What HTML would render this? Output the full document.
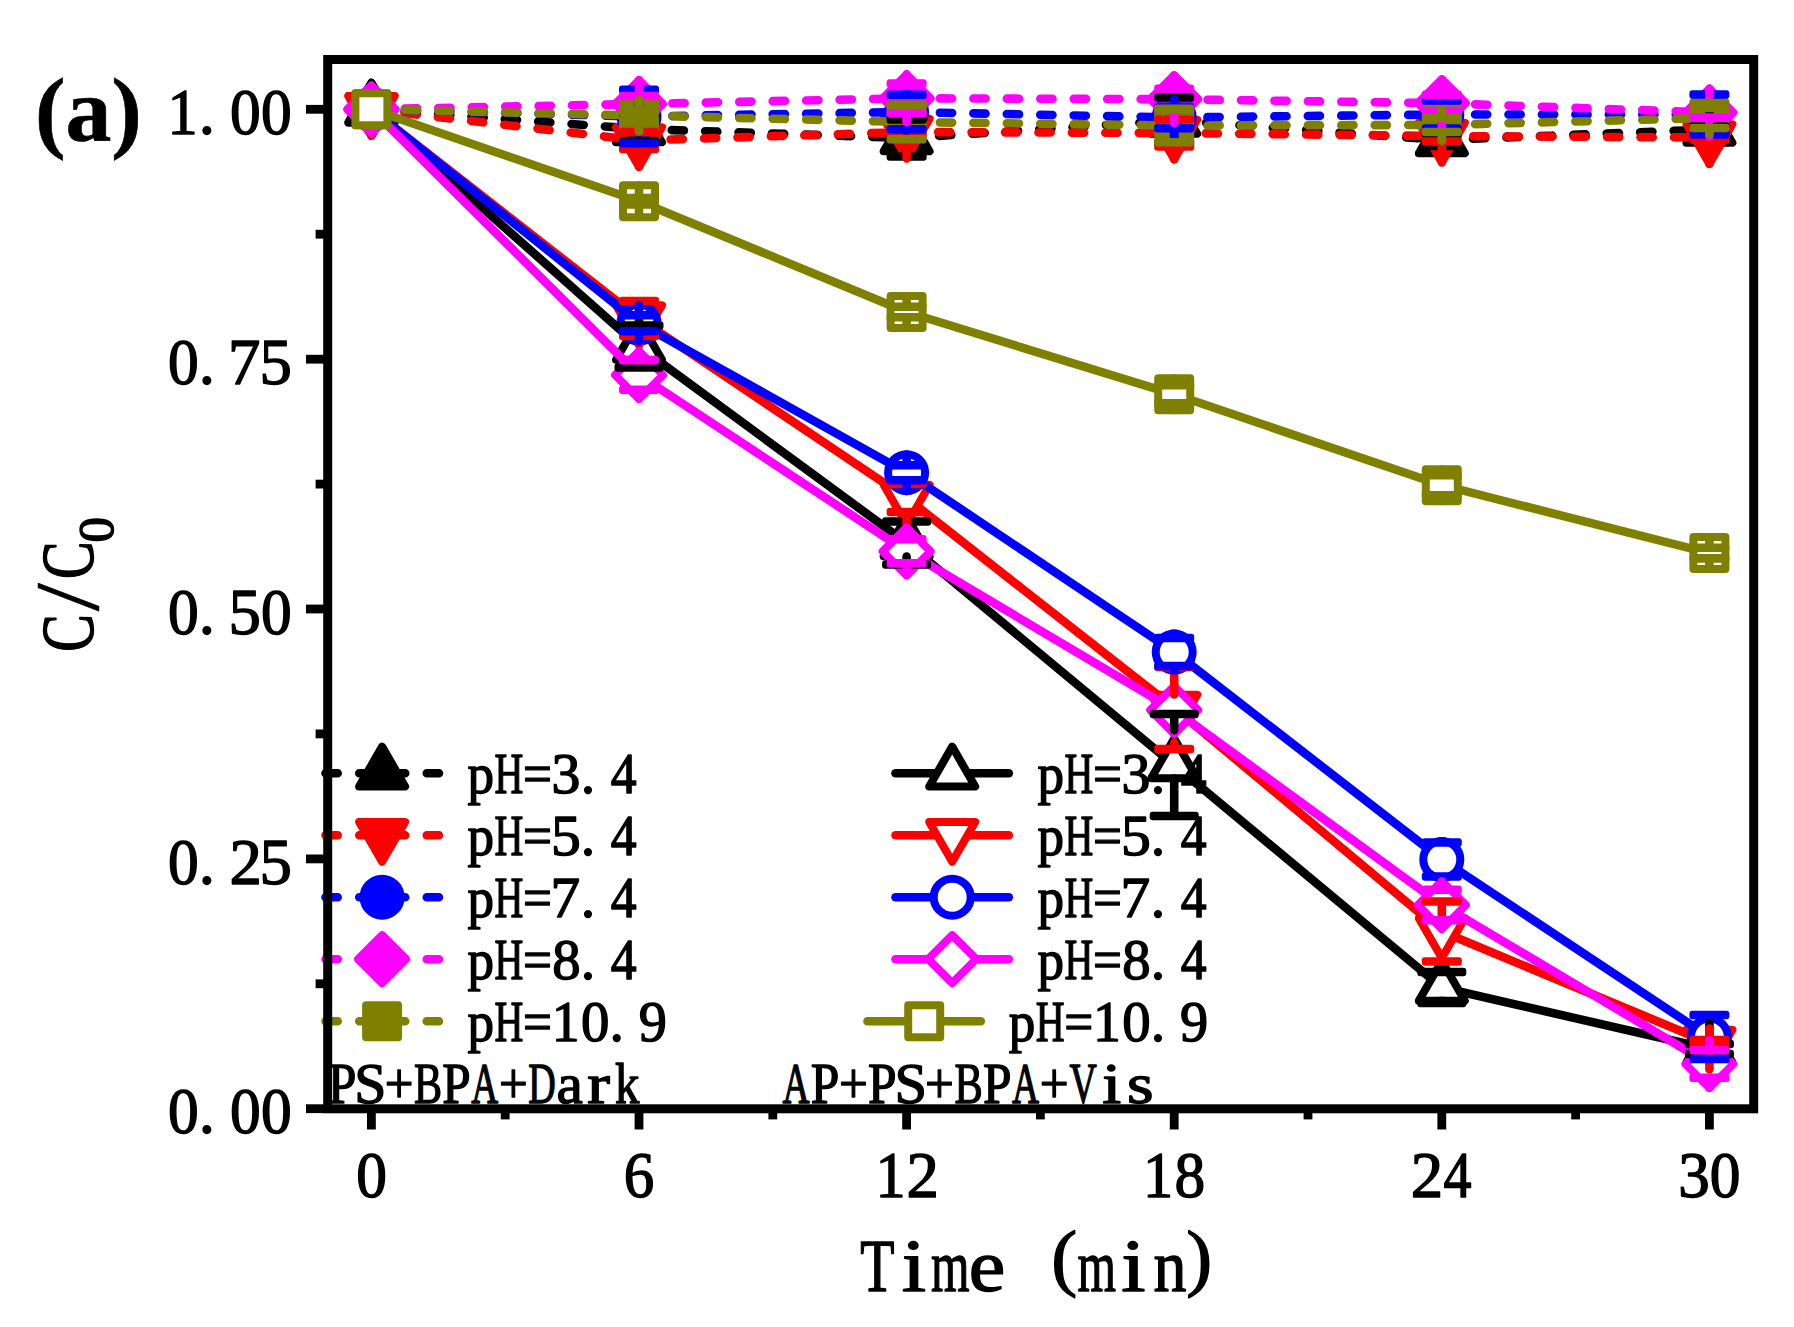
<!DOCTYPE html>
<html lang="en"><head><meta charset="utf-8"><title>C/C0 vs Time</title>
<style>html,body{margin:0;padding:0;background:#fff}svg{display:block}text{font-family:"Liberation Serif",serif;fill:#000;white-space:pre;stroke:#000;stroke-width:1.4px;stroke-linejoin:round}</style></head><body>
<svg width="1794" height="1327" viewBox="0 0 1794 1327">
<title>(a) C/C0 versus Time (min)</title>
<desc>Line chart. Y axis C/C0 from 0.00 to 1.00 (0.00, 0.25, 0.50, 0.75, 1.00). X axis Time (min): 0, 6, 12, 18, 24, 30. Legend PS+BPA+Dark: pH=3.4, pH=5.4, pH=7.4, pH=8.4, pH=10.9. Legend AP+PS+BPA+Vis: pH=3.4, pH=5.4, pH=7.4, pH=8.4, pH=10.9.</desc>
<rect width="1794" height="1327" fill="#fff"/>
<g id="dark">
<polyline points="371.4,109.3 639.0,129.0 906.6,138.0 1174.2,120.5 1441.8,140.0 1709.4,129.5" fill="none" stroke="#000000" stroke-width="8.6" stroke-linecap="round" stroke-linejoin="round" stroke-dasharray="12.2 21.25"/>
<path d="M371.4 82.7L394.4 122.6L348.4 122.6Z" fill="#000000" stroke="#000000" stroke-width="8.0" stroke-linejoin="round"/>
<path d="M639.0 102.4L662.0 142.3L616.0 142.3Z" fill="#000000" stroke="#000000" stroke-width="8.0" stroke-linejoin="round"/>
<path d="M906.6 111.4L929.6 151.3L883.6 151.3Z" fill="#000000" stroke="#000000" stroke-width="8.0" stroke-linejoin="round"/>
<path d="M1174.2 93.9L1197.2 133.8L1151.2 133.8Z" fill="#000000" stroke="#000000" stroke-width="8.0" stroke-linejoin="round"/>
<path d="M1441.8 113.4L1464.8 153.3L1418.8 153.3Z" fill="#000000" stroke="#000000" stroke-width="8.0" stroke-linejoin="round"/>
<path d="M1709.4 102.9L1732.4 142.8L1686.4 142.8Z" fill="#000000" stroke="#000000" stroke-width="8.0" stroke-linejoin="round"/>
<polyline points="371.4,109.3 639.0,140.5 906.6,132.0 1174.2,133.0 1441.8,136.0 1709.4,137.5" fill="none" stroke="#ff0000" stroke-width="8.6" stroke-linecap="round" stroke-linejoin="round" stroke-dasharray="12.2 21.25"/>
<path d="M371.4 135.9L394.4 96.0L348.4 96.0Z" fill="#ff0000" stroke="#ff0000" stroke-width="8.0" stroke-linejoin="round"/>
<path d="M639.0 167.1L662.0 127.2L616.0 127.2Z" fill="#ff0000" stroke="#ff0000" stroke-width="8.0" stroke-linejoin="round"/>
<path d="M906.6 158.6L929.6 118.7L883.6 118.7Z" fill="#ff0000" stroke="#ff0000" stroke-width="8.0" stroke-linejoin="round"/>
<path d="M1174.2 159.6L1197.2 119.7L1151.2 119.7Z" fill="#ff0000" stroke="#ff0000" stroke-width="8.0" stroke-linejoin="round"/>
<path d="M1441.8 162.6L1464.8 122.7L1418.8 122.7Z" fill="#ff0000" stroke="#ff0000" stroke-width="8.0" stroke-linejoin="round"/>
<path d="M1709.4 164.1L1732.4 124.2L1686.4 124.2Z" fill="#ff0000" stroke="#ff0000" stroke-width="8.0" stroke-linejoin="round"/>
<polyline points="371.4,109.3 639.0,116.5 906.6,112.0 1174.2,117.5 1441.8,114.5 1709.4,114.5" fill="none" stroke="#0000ff" stroke-width="8.6" stroke-linecap="round" stroke-linejoin="round" stroke-dasharray="12.2 21.25"/>
<circle cx="371.4" cy="109.3" r="18.5" fill="#0000ff" stroke="#0000ff" stroke-width="8.0" stroke-linejoin="round"/>
<circle cx="639.0" cy="116.5" r="18.5" fill="#0000ff" stroke="#0000ff" stroke-width="8.0" stroke-linejoin="round"/>
<circle cx="906.6" cy="112.0" r="18.5" fill="#0000ff" stroke="#0000ff" stroke-width="8.0" stroke-linejoin="round"/>
<circle cx="1174.2" cy="117.5" r="18.5" fill="#0000ff" stroke="#0000ff" stroke-width="8.0" stroke-linejoin="round"/>
<circle cx="1441.8" cy="114.5" r="18.5" fill="#0000ff" stroke="#0000ff" stroke-width="8.0" stroke-linejoin="round"/>
<circle cx="1709.4" cy="114.5" r="18.5" fill="#0000ff" stroke="#0000ff" stroke-width="8.0" stroke-linejoin="round"/>
<polyline points="371.4,109.3 639.0,104.0 906.6,98.3 1174.2,99.2 1441.8,103.2 1709.4,112.5" fill="none" stroke="#ff00ff" stroke-width="8.6" stroke-linecap="round" stroke-linejoin="round" stroke-dasharray="12.2 21.25"/>
<path d="M371.4 85.3L395.4 109.3L371.4 133.3L347.4 109.3Z" fill="#ff00ff" stroke="#ff00ff" stroke-width="8.0" stroke-linejoin="round"/>
<path d="M639.0 80.0L663.0 104.0L639.0 128.0L615.0 104.0Z" fill="#ff00ff" stroke="#ff00ff" stroke-width="8.0" stroke-linejoin="round"/>
<path d="M906.6 74.3L930.6 98.3L906.6 122.3L882.6 98.3Z" fill="#ff00ff" stroke="#ff00ff" stroke-width="8.0" stroke-linejoin="round"/>
<path d="M1174.2 75.2L1198.2 99.2L1174.2 123.2L1150.2 99.2Z" fill="#ff00ff" stroke="#ff00ff" stroke-width="8.0" stroke-linejoin="round"/>
<path d="M1441.8 79.2L1465.8 103.2L1441.8 127.2L1417.8 103.2Z" fill="#ff00ff" stroke="#ff00ff" stroke-width="8.0" stroke-linejoin="round"/>
<path d="M1709.4 88.5L1733.4 112.5L1709.4 136.5L1685.4 112.5Z" fill="#ff00ff" stroke="#ff00ff" stroke-width="8.0" stroke-linejoin="round"/>
<polyline points="371.4,109.3 639.0,115.5 906.6,122.0 1174.2,125.5 1441.8,125.0 1709.4,118.0" fill="none" stroke="#808000" stroke-width="8.6" stroke-linecap="round" stroke-linejoin="round" stroke-dasharray="12.2 21.25"/>
<rect x="355.4" y="93.3" width="32" height="32" fill="#808000" stroke="#808000" stroke-width="8.0" stroke-linejoin="round"/>
<rect x="623.0" y="99.5" width="32" height="32" fill="#808000" stroke="#808000" stroke-width="8.0" stroke-linejoin="round"/>
<rect x="890.6" y="106.0" width="32" height="32" fill="#808000" stroke="#808000" stroke-width="8.0" stroke-linejoin="round"/>
<rect x="1158.2" y="109.5" width="32" height="32" fill="#808000" stroke="#808000" stroke-width="8.0" stroke-linejoin="round"/>
<rect x="1425.8" y="109.0" width="32" height="32" fill="#808000" stroke="#808000" stroke-width="8.0" stroke-linejoin="round"/>
<rect x="1693.4" y="102.0" width="32" height="32" fill="#808000" stroke="#808000" stroke-width="8.0" stroke-linejoin="round"/>
</g>
<g id="dark-err">
<line x1="639.0" y1="102.7" x2="639.0" y2="112.7" stroke="#000000" stroke-width="8.6" stroke-linecap="round"/>
<rect x="634.7" y="138.3" width="8.6" height="2.7" rx="2" fill="#000000"/>
<rect x="619.0" y="112.7" width="40.0" height="8.6" rx="3" fill="#000000"/>
<rect x="619.0" y="136.7" width="40.0" height="8.6" rx="3" fill="#000000"/>
<line x1="906.6" y1="111.7" x2="906.6" y2="115.2" stroke="#000000" stroke-width="8.6" stroke-linecap="round"/>
<line x1="906.6" y1="151.6" x2="906.6" y2="152.2" stroke="#000000" stroke-width="8.6" stroke-linecap="round"/>
<rect x="886.6" y="115.2" width="40.0" height="8.6" rx="3" fill="#000000"/>
<rect x="886.6" y="152.2" width="40.0" height="8.6" rx="3" fill="#000000"/>
<rect x="1169.9" y="89.9" width="8.6" height="7.6" rx="2" fill="#000000"/>
<line x1="1174.2" y1="134.1" x2="1174.2" y2="139.2" stroke="#000000" stroke-width="8.6" stroke-linecap="round"/>
<rect x="1154.2" y="93.2" width="40.0" height="8.6" rx="3" fill="#000000"/>
<rect x="1154.2" y="139.2" width="40.0" height="8.6" rx="3" fill="#000000"/>
<line x1="1441.8" y1="113.7" x2="1441.8" y2="129.7" stroke="#000000" stroke-width="8.6" stroke-linecap="round"/>
<rect x="1437.5" y="146.0" width="8.6" height="3.3" rx="2" fill="#000000"/>
<rect x="1421.8" y="129.7" width="40.0" height="8.6" rx="3" fill="#000000"/>
<rect x="1421.8" y="141.7" width="40.0" height="8.6" rx="3" fill="#000000"/>
<line x1="1709.4" y1="103.2" x2="1709.4" y2="122.2" stroke="#000000" stroke-width="8.6" stroke-linecap="round"/>
<rect x="1705.1" y="132.5" width="8.6" height="6.3" rx="2" fill="#000000"/>
<rect x="1689.4" y="122.2" width="40.0" height="8.6" rx="3" fill="#000000"/>
<rect x="1689.4" y="128.2" width="40.0" height="8.6" rx="3" fill="#000000"/>
<rect x="634.7" y="131.2" width="8.6" height="0.8" rx="2" fill="#ff0000"/>
<line x1="639.0" y1="153.3" x2="639.0" y2="166.8" stroke="#ff0000" stroke-width="8.6" stroke-linecap="round"/>
<rect x="619.0" y="127.7" width="40.0" height="8.6" rx="3" fill="#ff0000"/>
<rect x="619.0" y="144.7" width="40.0" height="8.6" rx="3" fill="#ff0000"/>
<rect x="902.3" y="122.7" width="8.6" height="7.3" rx="2" fill="#ff0000"/>
<line x1="906.6" y1="138.3" x2="906.6" y2="158.3" stroke="#ff0000" stroke-width="8.6" stroke-linecap="round"/>
<rect x="886.6" y="125.7" width="40.0" height="8.6" rx="3" fill="#ff0000"/>
<rect x="886.6" y="129.7" width="40.0" height="8.6" rx="3" fill="#ff0000"/>
<rect x="1169.9" y="119.5" width="8.6" height="4.2" rx="2" fill="#ff0000"/>
<line x1="1174.2" y1="150.8" x2="1174.2" y2="159.3" stroke="#ff0000" stroke-width="8.6" stroke-linecap="round"/>
<rect x="1154.2" y="115.2" width="40.0" height="8.6" rx="3" fill="#ff0000"/>
<rect x="1154.2" y="142.2" width="40.0" height="8.6" rx="3" fill="#ff0000"/>
<rect x="1437.5" y="126.7" width="8.6" height="3.8" rx="2" fill="#ff0000"/>
<line x1="1441.8" y1="145.8" x2="1441.8" y2="162.3" stroke="#ff0000" stroke-width="8.6" stroke-linecap="round"/>
<rect x="1421.8" y="126.2" width="40.0" height="8.6" rx="3" fill="#ff0000"/>
<rect x="1421.8" y="137.2" width="40.0" height="8.6" rx="3" fill="#ff0000"/>
<rect x="1705.1" y="128.2" width="8.6" height="7.3" rx="2" fill="#ff0000"/>
<line x1="1709.4" y1="143.8" x2="1709.4" y2="163.8" stroke="#ff0000" stroke-width="8.6" stroke-linecap="round"/>
<rect x="1689.4" y="131.2" width="40.0" height="8.6" rx="3" fill="#ff0000"/>
<rect x="1689.4" y="135.2" width="40.0" height="8.6" rx="3" fill="#ff0000"/>
<rect x="634.7" y="89.7" width="8.6" height="4.3" rx="2" fill="#0000ff"/>
<rect x="634.7" y="139.0" width="8.6" height="4.3" rx="2" fill="#0000ff"/>
<rect x="619.0" y="85.4" width="40.0" height="8.6" rx="3" fill="#0000ff"/>
<rect x="619.0" y="139.0" width="40.0" height="8.6" rx="3" fill="#0000ff"/>
<rect x="902.3" y="89.5" width="8.6" height="5.3" rx="2" fill="#0000ff"/>
<rect x="902.3" y="129.2" width="8.6" height="5.3" rx="2" fill="#0000ff"/>
<rect x="886.6" y="90.5" width="40.0" height="8.6" rx="3" fill="#0000ff"/>
<rect x="886.6" y="124.9" width="40.0" height="8.6" rx="3" fill="#0000ff"/>
<line x1="1174.2" y1="99.3" x2="1174.2" y2="102.5" stroke="#0000ff" stroke-width="8.6" stroke-linecap="round"/>
<line x1="1174.2" y1="132.5" x2="1174.2" y2="135.7" stroke="#0000ff" stroke-width="8.6" stroke-linecap="round"/>
<rect x="1154.2" y="102.5" width="40.0" height="8.6" rx="3" fill="#0000ff"/>
<rect x="1154.2" y="123.9" width="40.0" height="8.6" rx="3" fill="#0000ff"/>
<rect x="1437.5" y="92.0" width="8.6" height="8.5" rx="2" fill="#0000ff"/>
<rect x="1437.5" y="128.5" width="8.6" height="8.5" rx="2" fill="#0000ff"/>
<rect x="1421.8" y="96.2" width="40.0" height="8.6" rx="3" fill="#0000ff"/>
<rect x="1421.8" y="124.2" width="40.0" height="8.6" rx="3" fill="#0000ff"/>
<rect x="1705.1" y="92.0" width="8.6" height="2.5" rx="2" fill="#0000ff"/>
<rect x="1705.1" y="134.5" width="8.6" height="2.5" rx="2" fill="#0000ff"/>
<rect x="1689.4" y="90.2" width="40.0" height="8.6" rx="3" fill="#0000ff"/>
<rect x="1689.4" y="130.2" width="40.0" height="8.6" rx="3" fill="#0000ff"/>
<line x1="639.0" y1="80.3" x2="639.0" y2="91.7" stroke="#ff00ff" stroke-width="8.6" stroke-linecap="round"/>
<line x1="639.0" y1="116.3" x2="639.0" y2="127.7" stroke="#ff00ff" stroke-width="8.6" stroke-linecap="round"/>
<rect x="619.0" y="91.7" width="40.0" height="8.6" rx="3" fill="#ff00ff"/>
<rect x="619.0" y="107.7" width="40.0" height="8.6" rx="3" fill="#ff00ff"/>
<line x1="906.6" y1="74.6" x2="906.6" y2="79.2" stroke="#ff00ff" stroke-width="8.6" stroke-linecap="round"/>
<line x1="906.6" y1="117.4" x2="906.6" y2="122.0" stroke="#ff00ff" stroke-width="8.6" stroke-linecap="round"/>
<rect x="886.6" y="79.2" width="40.0" height="8.6" rx="3" fill="#ff00ff"/>
<rect x="886.6" y="108.8" width="40.0" height="8.6" rx="3" fill="#ff00ff"/>
<line x1="1174.2" y1="75.5" x2="1174.2" y2="84.4" stroke="#ff00ff" stroke-width="8.6" stroke-linecap="round"/>
<line x1="1174.2" y1="114.0" x2="1174.2" y2="122.9" stroke="#ff00ff" stroke-width="8.6" stroke-linecap="round"/>
<rect x="1154.2" y="84.4" width="40.0" height="8.6" rx="3" fill="#ff00ff"/>
<rect x="1154.2" y="105.4" width="40.0" height="8.6" rx="3" fill="#ff00ff"/>
<line x1="1441.8" y1="79.5" x2="1441.8" y2="90.6" stroke="#ff00ff" stroke-width="8.6" stroke-linecap="round"/>
<line x1="1441.8" y1="115.8" x2="1441.8" y2="126.9" stroke="#ff00ff" stroke-width="8.6" stroke-linecap="round"/>
<rect x="1421.8" y="90.6" width="40.0" height="8.6" rx="3" fill="#ff00ff"/>
<rect x="1421.8" y="107.2" width="40.0" height="8.6" rx="3" fill="#ff00ff"/>
<line x1="1709.4" y1="88.8" x2="1709.4" y2="103.2" stroke="#ff00ff" stroke-width="8.6" stroke-linecap="round"/>
<line x1="1709.4" y1="121.8" x2="1709.4" y2="136.2" stroke="#ff00ff" stroke-width="8.6" stroke-linecap="round"/>
<rect x="1689.4" y="103.2" width="40.0" height="8.6" rx="3" fill="#ff00ff"/>
<rect x="1689.4" y="113.2" width="40.0" height="8.6" rx="3" fill="#ff00ff"/>
<line x1="639.0" y1="99.8" x2="639.0" y2="107.7" stroke="#808000" stroke-width="8.6" stroke-linecap="round"/>
<line x1="639.0" y1="123.3" x2="639.0" y2="131.2" stroke="#808000" stroke-width="8.6" stroke-linecap="round"/>
<rect x="619.0" y="107.7" width="40.0" height="8.6" rx="3" fill="#808000"/>
<rect x="619.0" y="114.7" width="40.0" height="8.6" rx="3" fill="#808000"/>
<rect x="902.3" y="102.0" width="8.6" height="2.8" rx="2" fill="#808000"/>
<rect x="902.3" y="139.2" width="8.6" height="2.8" rx="2" fill="#808000"/>
<rect x="886.6" y="100.5" width="40.0" height="8.6" rx="3" fill="#808000"/>
<rect x="886.6" y="134.9" width="40.0" height="8.6" rx="3" fill="#808000"/>
<rect x="1169.9" y="105.5" width="8.6" height="3.3" rx="2" fill="#808000"/>
<rect x="1169.9" y="142.2" width="8.6" height="3.3" rx="2" fill="#808000"/>
<rect x="1154.2" y="104.5" width="40.0" height="8.6" rx="3" fill="#808000"/>
<rect x="1154.2" y="137.9" width="40.0" height="8.6" rx="3" fill="#808000"/>
<line x1="1441.8" y1="109.3" x2="1441.8" y2="113.7" stroke="#808000" stroke-width="8.6" stroke-linecap="round"/>
<line x1="1441.8" y1="136.3" x2="1441.8" y2="140.7" stroke="#808000" stroke-width="8.6" stroke-linecap="round"/>
<rect x="1421.8" y="113.7" width="40.0" height="8.6" rx="3" fill="#808000"/>
<rect x="1421.8" y="127.7" width="40.0" height="8.6" rx="3" fill="#808000"/>
<line x1="1709.4" y1="102.3" x2="1709.4" y2="103.7" stroke="#808000" stroke-width="8.6" stroke-linecap="round"/>
<line x1="1709.4" y1="132.3" x2="1709.4" y2="133.7" stroke="#808000" stroke-width="8.6" stroke-linecap="round"/>
<rect x="1689.4" y="103.7" width="40.0" height="8.6" rx="3" fill="#808000"/>
<rect x="1689.4" y="123.7" width="40.0" height="8.6" rx="3" fill="#808000"/>
</g>
<g id="vis">
<polyline points="371.4,109.3 639.0,346.5 906.6,543.0 1174.2,765.0 1441.8,987.5 1709.4,1049.0" fill="none" stroke="#000000" stroke-width="8.6" stroke-linecap="round" stroke-linejoin="round"/>
<path d="M371.4 82.7L394.4 122.6L348.4 122.6Z" fill="#ffffff" stroke="#000000" stroke-width="8.0" stroke-linejoin="round"/>
<path d="M639.0 319.9L662.0 359.8L616.0 359.8Z" fill="#ffffff" stroke="#000000" stroke-width="8.0" stroke-linejoin="round"/>
<path d="M906.6 516.4L929.6 556.3L883.6 556.3Z" fill="#ffffff" stroke="#000000" stroke-width="8.0" stroke-linejoin="round"/>
<path d="M1174.2 738.4L1197.2 778.3L1151.2 778.3Z" fill="#ffffff" stroke="#000000" stroke-width="8.0" stroke-linejoin="round"/>
<path d="M1441.8 960.9L1464.8 1000.8L1418.8 1000.8Z" fill="#ffffff" stroke="#000000" stroke-width="8.0" stroke-linejoin="round"/>
<path d="M1709.4 1022.4L1732.4 1062.3L1686.4 1062.3Z" fill="#ffffff" stroke="#000000" stroke-width="8.0" stroke-linejoin="round"/>
<polyline points="371.4,109.3 639.0,318.5 906.6,498.0 1174.2,708.0 1441.8,931.5 1709.4,1043.0" fill="none" stroke="#ff0000" stroke-width="8.6" stroke-linecap="round" stroke-linejoin="round"/>
<path d="M371.4 135.9L394.4 96.0L348.4 96.0Z" fill="#ffffff" stroke="#ff0000" stroke-width="8.0" stroke-linejoin="round"/>
<path d="M639.0 345.1L662.0 305.2L616.0 305.2Z" fill="#ffffff" stroke="#ff0000" stroke-width="8.0" stroke-linejoin="round"/>
<path d="M906.6 524.6L929.6 484.7L883.6 484.7Z" fill="#ffffff" stroke="#ff0000" stroke-width="8.0" stroke-linejoin="round"/>
<path d="M1174.2 734.6L1197.2 694.7L1151.2 694.7Z" fill="#ffffff" stroke="#ff0000" stroke-width="8.0" stroke-linejoin="round"/>
<path d="M1441.8 958.1L1464.8 918.2L1418.8 918.2Z" fill="#ffffff" stroke="#ff0000" stroke-width="8.0" stroke-linejoin="round"/>
<path d="M1709.4 1069.6L1732.4 1029.7L1686.4 1029.7Z" fill="#ffffff" stroke="#ff0000" stroke-width="8.0" stroke-linejoin="round"/>
<polyline points="371.4,109.3 639.0,323.2 906.6,472.7 1174.2,652.0 1441.8,859.5 1709.4,1037.0" fill="none" stroke="#0000ff" stroke-width="8.6" stroke-linecap="round" stroke-linejoin="round"/>
<circle cx="371.4" cy="109.3" r="18.5" fill="#ffffff" stroke="#0000ff" stroke-width="8.0" stroke-linejoin="round"/>
<circle cx="639.0" cy="323.2" r="18.5" fill="#ffffff" stroke="#0000ff" stroke-width="8.0" stroke-linejoin="round"/>
<circle cx="906.6" cy="472.7" r="18.5" fill="#ffffff" stroke="#0000ff" stroke-width="8.0" stroke-linejoin="round"/>
<circle cx="1174.2" cy="652.0" r="18.5" fill="#ffffff" stroke="#0000ff" stroke-width="8.0" stroke-linejoin="round"/>
<circle cx="1441.8" cy="859.5" r="18.5" fill="#ffffff" stroke="#0000ff" stroke-width="8.0" stroke-linejoin="round"/>
<circle cx="1709.4" cy="1037.0" r="18.5" fill="#ffffff" stroke="#0000ff" stroke-width="8.0" stroke-linejoin="round"/>
<polyline points="371.4,109.3 639.0,375.0 906.6,551.3 1174.2,710.0 1441.8,905.0 1709.4,1064.0" fill="none" stroke="#ff00ff" stroke-width="8.6" stroke-linecap="round" stroke-linejoin="round"/>
<path d="M371.4 85.3L395.4 109.3L371.4 133.3L347.4 109.3Z" fill="#ffffff" stroke="#ff00ff" stroke-width="8.0" stroke-linejoin="round"/>
<path d="M639.0 351.0L663.0 375.0L639.0 399.0L615.0 375.0Z" fill="#ffffff" stroke="#ff00ff" stroke-width="8.0" stroke-linejoin="round"/>
<path d="M906.6 527.3L930.6 551.3L906.6 575.3L882.6 551.3Z" fill="#ffffff" stroke="#ff00ff" stroke-width="8.0" stroke-linejoin="round"/>
<path d="M1174.2 686.0L1198.2 710.0L1174.2 734.0L1150.2 710.0Z" fill="#ffffff" stroke="#ff00ff" stroke-width="8.0" stroke-linejoin="round"/>
<path d="M1441.8 881.0L1465.8 905.0L1441.8 929.0L1417.8 905.0Z" fill="#ffffff" stroke="#ff00ff" stroke-width="8.0" stroke-linejoin="round"/>
<path d="M1709.4 1040.0L1733.4 1064.0L1709.4 1088.0L1685.4 1064.0Z" fill="#ffffff" stroke="#ff00ff" stroke-width="8.0" stroke-linejoin="round"/>
<polyline points="371.4,109.3 639.0,201.3 906.6,312.0 1174.2,394.3 1441.8,485.2 1709.4,553.1" fill="none" stroke="#808000" stroke-width="8.6" stroke-linecap="round" stroke-linejoin="round"/>
<rect x="355.4" y="93.3" width="32" height="32" fill="#ffffff" stroke="#808000" stroke-width="8.0" stroke-linejoin="round"/>
<rect x="623.0" y="185.3" width="32" height="32" fill="#ffffff" stroke="#808000" stroke-width="8.0" stroke-linejoin="round"/>
<rect x="890.6" y="296.0" width="32" height="32" fill="#ffffff" stroke="#808000" stroke-width="8.0" stroke-linejoin="round"/>
<rect x="1158.2" y="378.3" width="32" height="32" fill="#ffffff" stroke="#808000" stroke-width="8.0" stroke-linejoin="round"/>
<rect x="1425.8" y="469.2" width="32" height="32" fill="#ffffff" stroke="#808000" stroke-width="8.0" stroke-linejoin="round"/>
<rect x="1693.4" y="537.1" width="32" height="32" fill="#ffffff" stroke="#808000" stroke-width="8.0" stroke-linejoin="round"/>
</g>
<g id="vis-err">
<line x1="639.0" y1="320.2" x2="639.0" y2="321.2" stroke="#000000" stroke-width="8.6" stroke-linecap="round"/>
<line x1="639.0" y1="360.1" x2="639.0" y2="363.2" stroke="#000000" stroke-width="8.6" stroke-linecap="round"/>
<rect x="614.5" y="321.2" width="49.0" height="8.6" rx="3" fill="#000000"/>
<rect x="614.5" y="363.2" width="49.0" height="8.6" rx="3" fill="#000000"/>
<line x1="906.6" y1="516.7" x2="906.6" y2="517.2" stroke="#000000" stroke-width="8.6" stroke-linecap="round"/>
<line x1="906.6" y1="556.6" x2="906.6" y2="560.2" stroke="#000000" stroke-width="8.6" stroke-linecap="round"/>
<rect x="882.1" y="517.2" width="49.0" height="8.6" rx="3" fill="#000000"/>
<rect x="882.1" y="560.2" width="49.0" height="8.6" rx="3" fill="#000000"/>
<line x1="1174.2" y1="718.3" x2="1174.2" y2="730.1" stroke="#000000" stroke-width="8.6" stroke-linecap="round"/>
<line x1="1174.2" y1="778.6" x2="1174.2" y2="811.7" stroke="#000000" stroke-width="8.6" stroke-linecap="round"/>
<rect x="1149.7" y="709.7" width="49.0" height="8.6" rx="3" fill="#000000"/>
<rect x="1149.7" y="811.7" width="49.0" height="8.6" rx="3" fill="#000000"/>
<line x1="1441.8" y1="961.2" x2="1441.8" y2="967.7" stroke="#000000" stroke-width="8.6" stroke-linecap="round"/>
<rect x="1437.5" y="996.8" width="8.6" height="6.2" rx="2" fill="#000000"/>
<rect x="1417.3" y="967.7" width="49.0" height="8.6" rx="3" fill="#000000"/>
<rect x="1417.3" y="998.7" width="49.0" height="8.6" rx="3" fill="#000000"/>
<line x1="1709.4" y1="1022.7" x2="1709.4" y2="1039.7" stroke="#000000" stroke-width="8.6" stroke-linecap="round"/>
<rect x="1705.1" y="1054.0" width="8.6" height="4.3" rx="2" fill="#000000"/>
<rect x="1684.9" y="1039.7" width="49.0" height="8.6" rx="3" fill="#000000"/>
<rect x="1684.9" y="1049.7" width="49.0" height="8.6" rx="3" fill="#000000"/>
<rect x="634.7" y="301.0" width="8.6" height="8.2" rx="2" fill="#ff0000"/>
<line x1="639.0" y1="340.3" x2="639.0" y2="344.8" stroke="#ff0000" stroke-width="8.6" stroke-linecap="round"/>
<rect x="619.0" y="296.7" width="40.0" height="8.6" rx="3" fill="#ff0000"/>
<rect x="619.0" y="331.7" width="40.0" height="8.6" rx="3" fill="#ff0000"/>
<rect x="902.3" y="484.0" width="8.6" height="4.7" rx="2" fill="#ff0000"/>
<line x1="906.6" y1="516.3" x2="906.6" y2="524.3" stroke="#ff0000" stroke-width="8.6" stroke-linecap="round"/>
<rect x="886.6" y="479.7" width="40.0" height="8.6" rx="3" fill="#ff0000"/>
<rect x="886.6" y="507.7" width="40.0" height="8.6" rx="3" fill="#ff0000"/>
<line x1="1174.2" y1="671.3" x2="1174.2" y2="694.4" stroke="#ff0000" stroke-width="8.6" stroke-linecap="round"/>
<line x1="1174.2" y1="742.9" x2="1174.2" y2="744.7" stroke="#ff0000" stroke-width="8.6" stroke-linecap="round"/>
<rect x="1154.2" y="662.7" width="40.0" height="8.6" rx="3" fill="#ff0000"/>
<rect x="1154.2" y="744.7" width="40.0" height="8.6" rx="3" fill="#ff0000"/>
<line x1="1441.8" y1="905.8" x2="1441.8" y2="917.9" stroke="#ff0000" stroke-width="8.6" stroke-linecap="round"/>
<rect x="1437.5" y="961.5" width="8.6" height="0.6" rx="2" fill="#ff0000"/>
<rect x="1421.8" y="897.2" width="40.0" height="8.6" rx="3" fill="#ff0000"/>
<rect x="1421.8" y="957.2" width="40.0" height="8.6" rx="3" fill="#ff0000"/>
<rect x="1705.1" y="1033.7" width="8.6" height="6.3" rx="2" fill="#ff0000"/>
<line x1="1709.4" y1="1050.3" x2="1709.4" y2="1069.3" stroke="#ff0000" stroke-width="8.6" stroke-linecap="round"/>
<rect x="1689.4" y="1035.7" width="40.0" height="8.6" rx="3" fill="#ff0000"/>
<rect x="1689.4" y="1041.7" width="40.0" height="8.6" rx="3" fill="#ff0000"/>
<line x1="1709.4" y1="1028.5" x2="1709.4" y2="1036" stroke="#ff0000" stroke-width="8.6" stroke-linecap="round"/>
<line x1="639.0" y1="305.0" x2="639.0" y2="310.9" stroke="#0000ff" stroke-width="8.6" stroke-linecap="round"/>
<line x1="639.0" y1="335.5" x2="639.0" y2="341.4" stroke="#0000ff" stroke-width="8.6" stroke-linecap="round"/>
<rect x="619.0" y="310.9" width="40.0" height="8.6" rx="3" fill="#0000ff"/>
<rect x="619.0" y="326.9" width="40.0" height="8.6" rx="3" fill="#0000ff"/>
<line x1="906.6" y1="454.5" x2="906.6" y2="460.9" stroke="#0000ff" stroke-width="8.6" stroke-linecap="round"/>
<line x1="906.6" y1="484.5" x2="906.6" y2="490.9" stroke="#0000ff" stroke-width="8.6" stroke-linecap="round"/>
<rect x="886.6" y="460.9" width="40.0" height="8.6" rx="3" fill="#0000ff"/>
<rect x="886.6" y="475.9" width="40.0" height="8.6" rx="3" fill="#0000ff"/>
<rect x="1169.9" y="629.5" width="8.6" height="8.5" rx="2" fill="#0000ff"/>
<rect x="1169.9" y="666.0" width="8.6" height="8.5" rx="2" fill="#0000ff"/>
<rect x="1154.2" y="633.7" width="40.0" height="8.6" rx="3" fill="#0000ff"/>
<rect x="1154.2" y="661.7" width="40.0" height="8.6" rx="3" fill="#0000ff"/>
<rect x="1437.5" y="837.0" width="8.6" height="5.5" rx="2" fill="#0000ff"/>
<rect x="1437.5" y="876.5" width="8.6" height="5.5" rx="2" fill="#0000ff"/>
<rect x="1421.8" y="838.2" width="40.0" height="8.6" rx="3" fill="#0000ff"/>
<rect x="1421.8" y="872.2" width="40.0" height="8.6" rx="3" fill="#0000ff"/>
<rect x="1705.1" y="1014.5" width="8.6" height="0.5" rx="2" fill="#0000ff"/>
<rect x="1705.1" y="1059.0" width="8.6" height="0.5" rx="2" fill="#0000ff"/>
<rect x="1689.4" y="1010.7" width="40.0" height="8.6" rx="3" fill="#0000ff"/>
<rect x="1689.4" y="1054.7" width="40.0" height="8.6" rx="3" fill="#0000ff"/>
<line x1="639.0" y1="351.3" x2="639.0" y2="356.0" stroke="#ff00ff" stroke-width="8.6" stroke-linecap="round"/>
<line x1="639.0" y1="394.0" x2="639.0" y2="398.7" stroke="#ff00ff" stroke-width="8.6" stroke-linecap="round"/>
<rect x="619.0" y="356.0" width="40.0" height="8.6" rx="3" fill="#ff00ff"/>
<rect x="619.0" y="385.4" width="40.0" height="8.6" rx="3" fill="#ff00ff"/>
<line x1="906.6" y1="527.6" x2="906.6" y2="535.0" stroke="#ff00ff" stroke-width="8.6" stroke-linecap="round"/>
<line x1="906.6" y1="567.6" x2="906.6" y2="575.0" stroke="#ff00ff" stroke-width="8.6" stroke-linecap="round"/>
<rect x="886.6" y="535.0" width="40.0" height="8.6" rx="3" fill="#ff00ff"/>
<rect x="886.6" y="559.0" width="40.0" height="8.6" rx="3" fill="#ff00ff"/>
<line x1="1441.8" y1="881.3" x2="1441.8" y2="885.4" stroke="#ff00ff" stroke-width="8.6" stroke-linecap="round"/>
<line x1="1441.8" y1="924.6" x2="1441.8" y2="928.7" stroke="#ff00ff" stroke-width="8.6" stroke-linecap="round"/>
<rect x="1421.8" y="885.4" width="40.0" height="8.6" rx="3" fill="#ff00ff"/>
<rect x="1421.8" y="916.0" width="40.0" height="8.6" rx="3" fill="#ff00ff"/>
<line x1="1709.4" y1="1040.3" x2="1709.4" y2="1046.0" stroke="#ff00ff" stroke-width="8.6" stroke-linecap="round"/>
<line x1="1709.4" y1="1082.0" x2="1709.4" y2="1087.7" stroke="#ff00ff" stroke-width="8.6" stroke-linecap="round"/>
<rect x="1689.4" y="1046.0" width="40.0" height="8.6" rx="3" fill="#ff00ff"/>
<rect x="1689.4" y="1073.4" width="40.0" height="8.6" rx="3" fill="#ff00ff"/>
<line x1="639.0" y1="185.6" x2="639.0" y2="193.8" stroke="#808000" stroke-width="8.6" stroke-linecap="round"/>
<line x1="639.0" y1="208.8" x2="639.0" y2="217.0" stroke="#808000" stroke-width="8.6" stroke-linecap="round"/>
<rect x="619.0" y="193.8" width="40.0" height="8.6" rx="3" fill="#808000"/>
<rect x="619.0" y="200.2" width="40.0" height="8.6" rx="3" fill="#808000"/>
<line x1="906.6" y1="296.3" x2="906.6" y2="302.5" stroke="#808000" stroke-width="8.6" stroke-linecap="round"/>
<line x1="906.6" y1="321.5" x2="906.6" y2="327.7" stroke="#808000" stroke-width="8.6" stroke-linecap="round"/>
<rect x="886.6" y="302.5" width="40.0" height="8.6" rx="3" fill="#808000"/>
<rect x="886.6" y="312.9" width="40.0" height="8.6" rx="3" fill="#808000"/>
<line x1="1174.2" y1="378.6" x2="1174.2" y2="381.0" stroke="#808000" stroke-width="8.6" stroke-linecap="round"/>
<line x1="1174.2" y1="407.6" x2="1174.2" y2="410.0" stroke="#808000" stroke-width="8.6" stroke-linecap="round"/>
<rect x="1154.2" y="381.0" width="40.0" height="8.6" rx="3" fill="#808000"/>
<rect x="1154.2" y="399.0" width="40.0" height="8.6" rx="3" fill="#808000"/>
<line x1="1441.8" y1="469.5" x2="1441.8" y2="470.9" stroke="#808000" stroke-width="8.6" stroke-linecap="round"/>
<line x1="1441.8" y1="499.5" x2="1441.8" y2="500.9" stroke="#808000" stroke-width="8.6" stroke-linecap="round"/>
<rect x="1421.8" y="470.9" width="40.0" height="8.6" rx="3" fill="#808000"/>
<rect x="1421.8" y="490.9" width="40.0" height="8.6" rx="3" fill="#808000"/>
<line x1="1709.4" y1="537.4" x2="1709.4" y2="543.5" stroke="#808000" stroke-width="8.6" stroke-linecap="round"/>
<line x1="1709.4" y1="562.7" x2="1709.4" y2="568.8" stroke="#808000" stroke-width="8.6" stroke-linecap="round"/>
<rect x="1689.4" y="543.5" width="40.0" height="8.6" rx="3" fill="#808000"/>
<rect x="1689.4" y="554.1" width="40.0" height="8.6" rx="3" fill="#808000"/>
</g>
<g id="legend">
<line x1="325.5" y1="773.2" x2="439.2" y2="773.2" stroke="#000000" stroke-width="8.6" stroke-linecap="round" stroke-dasharray="12.2 21.55"/>
<path d="M382.1 746.6L405.1 786.5L359.1 786.5Z" fill="#000000" stroke="#000000" stroke-width="8.0" stroke-linejoin="round"/>
<text y="793.0" font-size="57.8" aria-label="pH=3.4" ><tspan x="467.4" y="793.0" textLength="26.54" lengthAdjust="spacingAndGlyphs">p</tspan><tspan x="494.5" y="793.0" textLength="28.81" lengthAdjust="spacingAndGlyphs">H</tspan><tspan x="523.1" y="793.0" textLength="28.97" lengthAdjust="spacingAndGlyphs">=</tspan><tspan x="551.5" y="793.0">3</tspan><tspan x="580.8" y="793.0">.</tspan><tspan x="610.8" y="793.0" textLength="25.86" lengthAdjust="spacingAndGlyphs">4</tspan></text>
<line x1="895.5" y1="773.2" x2="1008.8" y2="773.2" stroke="#000000" stroke-width="8.6" stroke-linecap="round"/>
<path d="M952.2 746.6L975.2 786.5L929.2 786.5Z" fill="#ffffff" stroke="#000000" stroke-width="8.0" stroke-linejoin="round"/>
<text y="793.0" font-size="57.8" aria-label="pH=3.4" ><tspan x="1037.4" y="793.0" textLength="26.54" lengthAdjust="spacingAndGlyphs">p</tspan><tspan x="1064.5" y="793.0" textLength="28.81" lengthAdjust="spacingAndGlyphs">H</tspan><tspan x="1093.1" y="793.0" textLength="28.97" lengthAdjust="spacingAndGlyphs">=</tspan><tspan x="1121.5" y="793.0">3</tspan><tspan x="1150.8" y="793.0">.</tspan><tspan x="1180.8" y="793.0" textLength="25.86" lengthAdjust="spacingAndGlyphs">4</tspan></text>
<line x1="325.5" y1="835.2" x2="439.2" y2="835.2" stroke="#ff0000" stroke-width="8.6" stroke-linecap="round" stroke-dasharray="12.2 21.55"/>
<path d="M382.1 861.8L405.1 821.9L359.1 821.9Z" fill="#ff0000" stroke="#ff0000" stroke-width="8.0" stroke-linejoin="round"/>
<text y="855.0" font-size="57.8" aria-label="pH=5.4" ><tspan x="467.4" y="855.0" textLength="26.54" lengthAdjust="spacingAndGlyphs">p</tspan><tspan x="494.5" y="855.0" textLength="28.81" lengthAdjust="spacingAndGlyphs">H</tspan><tspan x="523.1" y="855.0" textLength="28.97" lengthAdjust="spacingAndGlyphs">=</tspan><tspan x="550.9" y="855.0" textLength="29.84" lengthAdjust="spacingAndGlyphs">5</tspan><tspan x="580.8" y="855.0">.</tspan><tspan x="610.8" y="855.0" textLength="25.86" lengthAdjust="spacingAndGlyphs">4</tspan></text>
<line x1="895.5" y1="835.2" x2="1008.8" y2="835.2" stroke="#ff0000" stroke-width="8.6" stroke-linecap="round"/>
<path d="M952.2 861.8L975.2 821.9L929.2 821.9Z" fill="#ffffff" stroke="#ff0000" stroke-width="8.0" stroke-linejoin="round"/>
<text y="855.0" font-size="57.8" aria-label="pH=5.4" ><tspan x="1037.4" y="855.0" textLength="26.54" lengthAdjust="spacingAndGlyphs">p</tspan><tspan x="1064.5" y="855.0" textLength="28.81" lengthAdjust="spacingAndGlyphs">H</tspan><tspan x="1093.1" y="855.0" textLength="28.97" lengthAdjust="spacingAndGlyphs">=</tspan><tspan x="1120.9" y="855.0" textLength="29.84" lengthAdjust="spacingAndGlyphs">5</tspan><tspan x="1150.8" y="855.0">.</tspan><tspan x="1180.8" y="855.0" textLength="25.86" lengthAdjust="spacingAndGlyphs">4</tspan></text>
<line x1="325.5" y1="897.2" x2="439.2" y2="897.2" stroke="#0000ff" stroke-width="8.6" stroke-linecap="round" stroke-dasharray="12.2 21.55"/>
<circle cx="382.1" cy="897.2" r="18.5" fill="#0000ff" stroke="#0000ff" stroke-width="8.0" stroke-linejoin="round"/>
<text y="917.0" font-size="57.8" aria-label="pH=7.4" ><tspan x="467.4" y="917.0" textLength="26.54" lengthAdjust="spacingAndGlyphs">p</tspan><tspan x="494.5" y="917.0" textLength="28.81" lengthAdjust="spacingAndGlyphs">H</tspan><tspan x="523.1" y="917.0" textLength="28.97" lengthAdjust="spacingAndGlyphs">=</tspan><tspan x="550.4" y="917.0" textLength="29.66" lengthAdjust="spacingAndGlyphs">7</tspan><tspan x="580.8" y="917.0">.</tspan><tspan x="610.8" y="917.0" textLength="25.86" lengthAdjust="spacingAndGlyphs">4</tspan></text>
<line x1="895.5" y1="897.2" x2="1008.8" y2="897.2" stroke="#0000ff" stroke-width="8.6" stroke-linecap="round"/>
<circle cx="952.2" cy="897.2" r="18.5" fill="#ffffff" stroke="#0000ff" stroke-width="8.0" stroke-linejoin="round"/>
<text y="917.0" font-size="57.8" aria-label="pH=7.4" ><tspan x="1037.4" y="917.0" textLength="26.54" lengthAdjust="spacingAndGlyphs">p</tspan><tspan x="1064.5" y="917.0" textLength="28.81" lengthAdjust="spacingAndGlyphs">H</tspan><tspan x="1093.1" y="917.0" textLength="28.97" lengthAdjust="spacingAndGlyphs">=</tspan><tspan x="1120.4" y="917.0" textLength="29.66" lengthAdjust="spacingAndGlyphs">7</tspan><tspan x="1150.8" y="917.0">.</tspan><tspan x="1180.8" y="917.0" textLength="25.86" lengthAdjust="spacingAndGlyphs">4</tspan></text>
<line x1="325.5" y1="959.2" x2="439.2" y2="959.2" stroke="#ff00ff" stroke-width="8.6" stroke-linecap="round" stroke-dasharray="12.2 21.55"/>
<path d="M382.1 935.2L406.1 959.2L382.1 983.2L358.1 959.2Z" fill="#ff00ff" stroke="#ff00ff" stroke-width="8.0" stroke-linejoin="round"/>
<text y="979.0" font-size="57.8" aria-label="pH=8.4" ><tspan x="467.4" y="979.0" textLength="26.54" lengthAdjust="spacingAndGlyphs">p</tspan><tspan x="494.5" y="979.0" textLength="28.81" lengthAdjust="spacingAndGlyphs">H</tspan><tspan x="523.1" y="979.0" textLength="28.97" lengthAdjust="spacingAndGlyphs">=</tspan><tspan x="552.2" y="979.0" textLength="28.36" lengthAdjust="spacingAndGlyphs">8</tspan><tspan x="580.8" y="979.0">.</tspan><tspan x="610.8" y="979.0" textLength="25.86" lengthAdjust="spacingAndGlyphs">4</tspan></text>
<line x1="895.5" y1="959.2" x2="1008.8" y2="959.2" stroke="#ff00ff" stroke-width="8.6" stroke-linecap="round"/>
<path d="M952.2 935.2L976.2 959.2L952.2 983.2L928.2 959.2Z" fill="#ffffff" stroke="#ff00ff" stroke-width="8.0" stroke-linejoin="round"/>
<text y="979.0" font-size="57.8" aria-label="pH=8.4" ><tspan x="1037.4" y="979.0" textLength="26.54" lengthAdjust="spacingAndGlyphs">p</tspan><tspan x="1064.5" y="979.0" textLength="28.81" lengthAdjust="spacingAndGlyphs">H</tspan><tspan x="1093.1" y="979.0" textLength="28.97" lengthAdjust="spacingAndGlyphs">=</tspan><tspan x="1122.2" y="979.0" textLength="28.36" lengthAdjust="spacingAndGlyphs">8</tspan><tspan x="1150.8" y="979.0">.</tspan><tspan x="1180.8" y="979.0" textLength="25.86" lengthAdjust="spacingAndGlyphs">4</tspan></text>
<line x1="325.5" y1="1021.2" x2="439.2" y2="1021.2" stroke="#808000" stroke-width="8.6" stroke-linecap="round" stroke-dasharray="12.2 21.55"/>
<rect x="366.1" y="1005.2" width="32" height="32" fill="#808000" stroke="#808000" stroke-width="8.0" stroke-linejoin="round"/>
<text y="1041.0" font-size="57.8" aria-label="pH=10.9" ><tspan x="467.4" y="1041.0" textLength="26.54" lengthAdjust="spacingAndGlyphs">p</tspan><tspan x="494.5" y="1041.0" textLength="28.81" lengthAdjust="spacingAndGlyphs">H</tspan><tspan x="523.1" y="1041.0" textLength="28.97" lengthAdjust="spacingAndGlyphs">=</tspan><tspan x="551.7" y="1041.0" textLength="27.82" lengthAdjust="spacingAndGlyphs">1</tspan><tspan x="580.9" y="1041.0" textLength="28.36" lengthAdjust="spacingAndGlyphs">0</tspan><tspan x="609.6" y="1041.0">.</tspan><tspan x="638.8" y="1041.0" textLength="28.17" lengthAdjust="spacingAndGlyphs">9</tspan></text>
<line x1="867.5" y1="1021.2" x2="980.8" y2="1021.2" stroke="#808000" stroke-width="8.6" stroke-linecap="round"/>
<rect x="908.2" y="1005.2" width="32" height="32" fill="#ffffff" stroke="#808000" stroke-width="8.0" stroke-linejoin="round"/>
<text y="1041.0" font-size="57.8" aria-label="pH=10.9" ><tspan x="1008.7" y="1041.0" textLength="26.54" lengthAdjust="spacingAndGlyphs">p</tspan><tspan x="1035.7" y="1041.0" textLength="28.81" lengthAdjust="spacingAndGlyphs">H</tspan><tspan x="1064.3" y="1041.0" textLength="28.97" lengthAdjust="spacingAndGlyphs">=</tspan><tspan x="1092.9" y="1041.0" textLength="27.82" lengthAdjust="spacingAndGlyphs">1</tspan><tspan x="1122.2" y="1041.0" textLength="28.36" lengthAdjust="spacingAndGlyphs">0</tspan><tspan x="1150.8" y="1041.0">.</tspan><tspan x="1180.0" y="1041.0" textLength="28.17" lengthAdjust="spacingAndGlyphs">9</tspan></text>
<text y="1102.6" font-size="57.8" aria-label="PS+BPA+Dark" ><tspan x="328.1" y="1102.6" textLength="28.38" lengthAdjust="spacingAndGlyphs">P</tspan><tspan x="354.2" y="1102.6">S</tspan><tspan x="384.7" y="1102.6" textLength="28.75" lengthAdjust="spacingAndGlyphs">+</tspan><tspan x="414.0" y="1102.6" textLength="28.14" lengthAdjust="spacingAndGlyphs">B</tspan><tspan x="442.3" y="1102.6" textLength="28.38" lengthAdjust="spacingAndGlyphs">P</tspan><tspan x="471.2" y="1102.6" textLength="26.93" lengthAdjust="spacingAndGlyphs">A</tspan><tspan x="498.9" y="1102.6" textLength="28.75" lengthAdjust="spacingAndGlyphs">+</tspan><tspan x="528.3" y="1102.6" textLength="27.49" lengthAdjust="spacingAndGlyphs">D</tspan><tspan x="556.6" y="1102.6" textLength="26.34" lengthAdjust="spacingAndGlyphs">a</tspan><tspan x="587.2" y="1102.6" textLength="22.71" lengthAdjust="spacingAndGlyphs">r</tspan><tspan x="614.9" y="1102.6" textLength="24.37" lengthAdjust="spacingAndGlyphs">k</tspan></text>
<text y="1102.6" font-size="57.8" aria-label="AP+PS+BPA+Vis" ><tspan x="782.4" y="1102.6" textLength="27.08" lengthAdjust="spacingAndGlyphs">A</tspan><tspan x="810.7" y="1102.6" textLength="28.54" lengthAdjust="spacingAndGlyphs">P</tspan><tspan x="838.9" y="1102.6" textLength="28.91" lengthAdjust="spacingAndGlyphs">+</tspan><tspan x="868.1" y="1102.6" textLength="28.54" lengthAdjust="spacingAndGlyphs">P</tspan><tspan x="894.4" y="1102.6" textLength="32.55" lengthAdjust="spacingAndGlyphs">S</tspan><tspan x="925.0" y="1102.6" textLength="28.91" lengthAdjust="spacingAndGlyphs">+</tspan><tspan x="954.5" y="1102.6" textLength="28.30" lengthAdjust="spacingAndGlyphs">B</tspan><tspan x="982.9" y="1102.6" textLength="28.54" lengthAdjust="spacingAndGlyphs">P</tspan><tspan x="1012.0" y="1102.6" textLength="27.08" lengthAdjust="spacingAndGlyphs">A</tspan><tspan x="1039.8" y="1102.6" textLength="28.91" lengthAdjust="spacingAndGlyphs">+</tspan><tspan x="1069.4" y="1102.6" textLength="27.29" lengthAdjust="spacingAndGlyphs">V</tspan><tspan x="1102.2" y="1102.6" textLength="18.95" lengthAdjust="spacingAndGlyphs">i</tspan><tspan x="1127.0" y="1102.6" textLength="26.54" lengthAdjust="spacingAndGlyphs">s</tspan></text>
</g>
<g id="axes" fill="#000">
<rect x="327.7" y="59.5" width="1426.0" height="1049.3" fill="none" stroke="#000" stroke-width="9"/>
<rect x="306" y="1104.3" width="18" height="8.8"/>
<rect x="306" y="854.5" width="18" height="8.8"/>
<rect x="306" y="604.6" width="18" height="8.8"/>
<rect x="306" y="354.8" width="18" height="8.8"/>
<rect x="306" y="104.9" width="18" height="8.8"/>
<rect x="315.6" y="979.4" width="8.4" height="8.8"/>
<rect x="315.6" y="729.5" width="8.4" height="8.8"/>
<rect x="315.6" y="479.7" width="8.4" height="8.8"/>
<rect x="315.6" y="229.8" width="8.4" height="8.8"/>
<rect x="367.0" y="1112" width="8.8" height="17.5"/>
<rect x="634.6" y="1112" width="8.8" height="17.5"/>
<rect x="902.2" y="1112" width="8.8" height="17.5"/>
<rect x="1169.8" y="1112" width="8.8" height="17.5"/>
<rect x="1437.4" y="1112" width="8.8" height="17.5"/>
<rect x="1705.0" y="1112" width="8.8" height="17.5"/>
<rect x="500.8" y="1112" width="8.8" height="7.4"/>
<rect x="768.4" y="1112" width="8.8" height="7.4"/>
<rect x="1036.0" y="1112" width="8.8" height="7.4"/>
<rect x="1303.6" y="1112" width="8.8" height="7.4"/>
<rect x="1571.2" y="1112" width="8.8" height="7.4"/>
</g>
<g id="ticklabels">
<text y="1133.3" font-size="64.8" aria-label="0.00" ><tspan x="168.0" y="1133.3" textLength="30.71" lengthAdjust="spacingAndGlyphs">0</tspan><tspan x="198.7" y="1133.3">.</tspan><tspan x="230.0" y="1133.3" textLength="30.71" lengthAdjust="spacingAndGlyphs">0</tspan><tspan x="261.0" y="1133.3" textLength="30.71" lengthAdjust="spacingAndGlyphs">0</tspan></text>
<text y="883.5" font-size="64.8" aria-label="0.25" ><tspan x="168.0" y="883.5" textLength="30.71" lengthAdjust="spacingAndGlyphs">0</tspan><tspan x="198.7" y="883.5">.</tspan><tspan x="229.5" y="883.5">2</tspan><tspan x="259.6" y="883.5">5</tspan></text>
<text y="633.6" font-size="64.8" aria-label="0.50" ><tspan x="168.0" y="633.6" textLength="30.71" lengthAdjust="spacingAndGlyphs">0</tspan><tspan x="198.7" y="633.6">.</tspan><tspan x="228.6" y="633.6">5</tspan><tspan x="261.0" y="633.6" textLength="30.71" lengthAdjust="spacingAndGlyphs">0</tspan></text>
<text y="383.8" font-size="64.8" aria-label="0.75" ><tspan x="168.0" y="383.8" textLength="30.71" lengthAdjust="spacingAndGlyphs">0</tspan><tspan x="198.7" y="383.8">.</tspan><tspan x="228.1" y="383.8">7</tspan><tspan x="259.6" y="383.8">5</tspan></text>
<text y="133.9" font-size="64.8" aria-label="1.00" ><tspan x="167.5" y="133.9" textLength="30.15" lengthAdjust="spacingAndGlyphs">1</tspan><tspan x="198.7" y="133.9">.</tspan><tspan x="230.0" y="133.9" textLength="30.71" lengthAdjust="spacingAndGlyphs">0</tspan><tspan x="261.0" y="133.9" textLength="30.71" lengthAdjust="spacingAndGlyphs">0</tspan></text>
<text y="1197.0" font-size="64.8" aria-label="0" ><tspan x="356.3" y="1197.0" textLength="30.71" lengthAdjust="spacingAndGlyphs">0</tspan></text>
<text y="1197.0" font-size="64.8" aria-label="6" ><tspan x="623.7" y="1197.0" textLength="30.47" lengthAdjust="spacingAndGlyphs">6</tspan></text>
<text y="1197.0" font-size="64.8" aria-label="12" ><tspan x="875.5" y="1197.0" textLength="30.15" lengthAdjust="spacingAndGlyphs">1</tspan><tspan x="906.5" y="1197.0">2</tspan></text>
<text y="1197.0" font-size="64.8" aria-label="18" ><tspan x="1143.1" y="1197.0" textLength="30.15" lengthAdjust="spacingAndGlyphs">1</tspan><tspan x="1174.6" y="1197.0" textLength="30.71" lengthAdjust="spacingAndGlyphs">8</tspan></text>
<text y="1197.0" font-size="64.8" aria-label="24" ><tspan x="1410.7" y="1197.0">2</tspan><tspan x="1443.5" y="1197.0" textLength="28.00" lengthAdjust="spacingAndGlyphs">4</tspan></text>
<text y="1197.0" font-size="64.8" aria-label="30" ><tspan x="1678.2" y="1197.0" textLength="31.51" lengthAdjust="spacingAndGlyphs">3</tspan><tspan x="1709.8" y="1197.0" textLength="30.71" lengthAdjust="spacingAndGlyphs">0</tspan></text>
</g>
<text y="1290.6" font-size="74.2" aria-label="Time (min)" ><tspan x="860.2" y="1290.6" textLength="34.21" lengthAdjust="spacingAndGlyphs">T</tspan><tspan x="901.7" y="1290.6" textLength="24.33" lengthAdjust="spacingAndGlyphs">i</tspan><tspan x="931.1" y="1290.6" textLength="38.48" lengthAdjust="spacingAndGlyphs">m</tspan><tspan x="968.7" y="1290.6" textLength="36.51" lengthAdjust="spacingAndGlyphs">e</tspan><tspan x="1023.7"> </tspan><tspan x="1051.3" y="1282.1" textLength="25.94" lengthAdjust="spacingAndGlyphs">(</tspan><tspan x="1077.5" y="1290.6" textLength="38.48" lengthAdjust="spacingAndGlyphs">m</tspan><tspan x="1121.3" y="1290.6" textLength="24.33" lengthAdjust="spacingAndGlyphs">i</tspan><tspan x="1153.4" y="1290.6" textLength="32.95" lengthAdjust="spacingAndGlyphs">n</tspan><tspan x="1186.3" y="1282.1" textLength="25.94" lengthAdjust="spacingAndGlyphs">)</tspan></text>
<g transform="rotate(-90)">
<text y="93.2" font-size="74.2" aria-label="C/C" ><tspan x="-651.7" y="93.2" textLength="37.44" lengthAdjust="spacingAndGlyphs">C</tspan><tspan x="-611.2" y="98.2" font-size="91" style="stroke-width:0.5px" textLength="28.32" lengthAdjust="spacingAndGlyphs">/</tspan><tspan x="-579.0" y="93.2" textLength="37.44" lengthAdjust="spacingAndGlyphs">C</tspan><tspan x="-542.4" y="113.4" font-size="51">0</tspan></text>
</g>
<text x="34.9" y="141.2" font-size="91.8" font-weight="bold" style="stroke-width:0.6px">(a)</text>
</svg></body></html>
